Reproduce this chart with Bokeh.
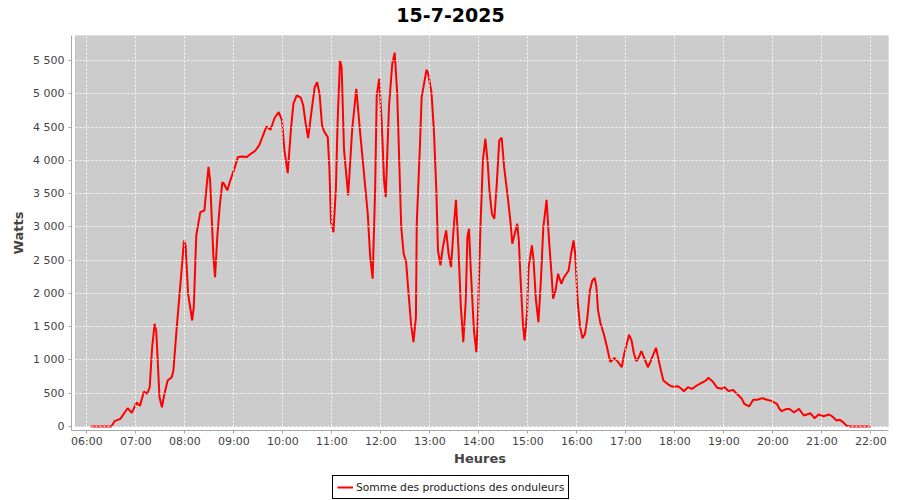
from bokeh.plotting import figure
from bokeh.layouts import column
from bokeh.models import FixedTicker, Legend, LegendItem, ColumnDataSource, Range1d, BoxAnnotation, Label
from bokeh.embed import file_html
from bokeh.resources import INLINE

title_text = "15-7-2025"
x_label = "Heures"
y_label = "Watts"
series_name = "Somme des productions des onduleurs"

times = [
    "06:05", "06:10", "06:15", "06:20", "06:25", "06:30", "06:34", "06:41", "06:50", "06:55",
    "07:01", "07:05", "07:10", "07:14", "07:17", "07:20", "07:23", "07:25", "07:29", "07:32", "07:35", "07:39", "07:44", "07:46", "07:50", "07:55", "07:59",
    "08:01", "08:04", "08:09", "08:11", "08:14", "08:19", "08:24", "08:25", "08:29", "08:31", "08:35", "08:37", "08:40", "08:43", "08:46", "08:48", "08:52", "08:55",
    "09:00", "09:05", "09:10", "09:16", "09:22", "09:26", "09:31", "09:35", "09:40", "09:45", "09:50", "09:55", "09:59",
    "10:02", "10:06", "10:10", "10:13", "10:17", "10:22", "10:25", "10:28", "10:31", "10:35", "10:39", "10:42", "10:45", "10:48", "10:51", "10:55", "10:57", "10:59",
    "11:02", "11:05", "11:07", "11:10", "11:12", "11:15", "11:20", "11:25", "11:30", "11:35", "11:40", "11:44", "11:47", "11:50", "11:53", "11:55", "11:58",
    "12:01", "12:04", "12:06", "12:10", "12:14", "12:17", "12:20", "12:25", "12:28", "12:31", "12:34", "12:37", "12:40", "12:43", "12:44", "12:48", "12:50", "12:56", "12:58",
    "13:02", "13:05", "13:08", "13:10", "13:13", "13:16", "13:20", "13:23", "13:26", "13:29", "13:32", "13:35", "13:38", "13:41", "13:44", "13:46", "13:48", "13:50", "13:54", "13:57", "13:59",
    "14:02", "14:05", "14:08", "14:11", "14:13", "14:16", "14:19", "14:22", "14:25", "14:28", "14:31", "14:35", "14:39", "14:41", "14:44", "14:47", "14:49", "14:51", "14:54", "14:56", "14:59",
    "15:01", "15:05", "15:07", "15:10", "15:13", "15:16", "15:19", "15:23", "15:26", "15:29", "15:31", "15:34", "15:37", "15:41", "15:44", "15:50", "15:53", "15:56", "15:58",
    "16:01", "16:04", "16:07", "16:10", "16:13", "16:16", "16:19", "16:22", "16:24", "16:26", "16:29", "16:33", "16:37", "16:41", "16:46", "16:49", "16:55", "16:58",
    "17:04", "17:07", "17:10", "17:13", "17:16", "17:19", "17:23", "17:27", "17:30", "17:34", "17:37", "17:39", "17:43", "17:46", "17:51", "17:56", "17:59",
    "18:04", "18:08", "18:11", "18:16", "18:21", "18:27", "18:32", "18:38", "18:41", "18:46", "18:52", "18:57",
    "19:01", "19:06", "19:11", "19:16", "19:22", "19:25", "19:31", "19:36", "19:41", "19:47", "19:53", "19:59",
    "20:05", "20:08", "20:11", "20:16", "20:20", "20:26", "20:32", "20:38", "20:46", "20:51", "20:56",
    "21:02", "21:09", "21:13", "21:18", "21:22", "21:26", "21:30", "21:35", "21:40", "21:45", "21:50", "21:55", "22:00",
]

watts = [
    0, 0, 0, 0, 0, 0, 80, 115, 275, 205,
    360, 310, 526, 490, 590, 1190, 1543, 1440, 440, 290, 490, 690, 740, 840, 1470, 2195, 2795,
    2720, 1995, 1593, 1795, 2870, 3220, 3245, 3385, 3900, 3695, 2545, 2245, 2895, 3347, 3672, 3648, 3547, 3672,
    3848, 4048, 4058, 4048, 4108, 4140, 4223, 4348, 4509, 4459, 4639, 4724, 4599,
    4148, 3807, 4474, 4850, 4975, 4940, 4825, 4549, 4333, 4724, 5100, 5175, 5000, 4524, 4424, 4348, 3897, 3071,
    2920, 3572, 4549, 5501, 5401, 4148, 3472, 4474, 5075, 4374, 3723, 3197, 2545, 2220, 3547, 4975, 5226,
    4599, 3697, 3447, 4800, 5451, 5617, 5025, 2995, 2595, 2470, 1995, 1544, 1267, 1643, 3047, 4249, 4950, 5361, 5301,
    5025, 4449, 3547, 2645, 2420, 2695, 2946, 2595, 2394, 2946, 3407, 2695, 1793, 1267, 1894, 2845, 2971, 2394, 1443, 1117, 1694,
    2995, 3998, 4324, 3948, 3547, 3197, 3122, 3648, 4299, 4339, 3897, 3497, 3047, 2746, 2896, 3047, 2796, 2244, 1544, 1293, 1694,
    2394, 2720, 2495, 1894, 1568, 2194, 2995, 3407, 2796, 2295, 1919, 2044, 2295, 2145, 2234, 2345, 2595, 2796, 2595,
    1894, 1493, 1327, 1393, 1643, 2044, 2194, 2234, 2094, 1744, 1550, 1393, 1192, 967, 1032, 992, 891, 1093,
    1378, 1293, 1093, 981, 1042, 1132, 1017, 891, 967, 1093, 1183, 1067, 842, 691, 641, 601, 601,
    606, 566, 531, 591, 566, 616, 651, 691, 731, 681, 581, 566,
    591, 531, 551, 491, 416, 341, 301, 401, 401, 426, 401, 381,
    341, 266, 230, 260, 266, 210, 266, 165, 200, 125, 180,
    155, 180, 150, 90, 100, 65, 15, 0, 0, 0, 0, 0, 0,
]

x_tick_hours = [6, 7, 8, 9, 10, 11, 12, 13, 14, 15, 16, 17, 18, 19, 20, 21, 22]
x_tick_labels = ["06:00", "07:00", "08:00", "09:00", "10:00", "11:00", "12:00", "13:00",
                 "14:00", "15:00", "16:00", "17:00", "18:00", "19:00", "20:00", "21:00", "22:00"]
y_tick_values = [0, 500, 1000, 1500, 2000, 2500, 3000, 3500, 4000, 4500, 5000, 5500]
y_tick_labels = ["0", "500", "1 000", "1 500", "2 000", "2 500", "3 000", "3 500",
                 "4 000", "4 500", "5 000", "5 500"]

# plot-area limits (hours / watts); the axes sit 4 px outside them, as in JFreeChart
x_lo, x_hi = 5.769, 22.361
y_lo, y_hi = 0, 5875
px_per_hour = 49.0
px_per_watt = 0.06655
axis_gap = 4

hours = [int(t[:2]) + int(t[3:]) / 60.0 for t in times]
src = ColumnDataSource(dict(h=hours, w=watts))

FONT = "DejaVu Sans"


def strip(height):
    s = figure(width=900, height=height, min_border=0, x_range=Range1d(0, 1), y_range=Range1d(0, 1),
               x_axis_type=None, y_axis_type=None, output_backend="svg", toolbar_location=None)
    s.outline_line_color = None
    s.background_fill_color = "white"
    s.border_fill_color = "white"
    return s


# title strip above the chart (frames are aligned by the column)
pt = strip(28)
pt.add_layout(Label(x=379, y=14, x_units="screen", y_units="screen", text=title_text,
                    text_align="center", text_baseline="middle",
                    text_font=FONT, text_font_size="19px", text_font_style="bold",
                    text_color="black"))

p = figure(width=900, height=446, frame_width=817, frame_height=395,
           min_border_left=71, min_border_right=12, min_border_top=7, min_border_bottom=44,
           x_range=Range1d(x_lo - axis_gap / px_per_hour, x_hi),
           y_range=Range1d(y_lo - axis_gap / px_per_watt, y_hi),
           output_backend="svg", toolbar_location=None)

p.background_fill_color = "white"
p.border_fill_color = "white"
p.outline_line_color = None

plot_area = BoxAnnotation(left=x_lo, right=x_hi, bottom=y_lo, top=y_hi,
                          fill_color="#cccccc", fill_alpha=1,
                          line_color="#6d6d6d", line_width=1, level="underlay")
p.add_layout(plot_area)

for ax in (p.xaxis[0], p.yaxis[0]):
    ax.axis_line_color = "#a8a8a8"
    ax.axis_line_width = 1
    ax.major_tick_in = 0
    ax.major_tick_out = 3
    ax.major_tick_line_color = "#a8a8a8"
    ax.minor_tick_line_color = None
    ax.major_label_text_font = FONT
    ax.major_label_text_font_size = "11px"
    ax.major_label_text_color = "#444444"
    ax.axis_label_text_font = FONT
    ax.axis_label_text_font_size = "13px"
    ax.axis_label_text_font_style = "bold"
    ax.axis_label_text_color = "#444444"

p.xaxis.ticker = FixedTicker(ticks=x_tick_hours)
p.xaxis.major_label_overrides = dict(zip(x_tick_hours, x_tick_labels))
p.xaxis.axis_label = x_label
p.xaxis.major_label_standoff = 1
p.xaxis.axis_label_standoff = 0

p.yaxis.ticker = FixedTicker(ticks=y_tick_values)
p.yaxis.major_label_overrides = dict(zip(y_tick_values, y_tick_labels))
p.yaxis.axis_label = y_label
p.yaxis.major_label_standoff = 4
p.yaxis.axis_label_standoff = 4

for g in (p.xgrid[0], p.ygrid[0]):
    g.grid_line_color = "white"
    g.grid_line_dash = "2 2"
    g.grid_line_width = 1
    g.grid_line_alpha = 0.9
    g.level = "glyph"

r_line = p.line("h", "w", source=src, line_color="#ff0000", line_width=2)

# legend strip below the chart; the series is out of this strip's range, only its key shows
pl = strip(26)
r_key = pl.line("h", "w", source=src, line_color="#ff0000", line_width=2)

legend = Legend(items=[LegendItem(label=series_name, renderers=[r_key])],
                location=(261, 1), orientation="horizontal",
                border_line_color="black", border_line_width=1, border_line_alpha=1,
                background_fill_color="white", background_fill_alpha=1,
                padding=4, margin=0, spacing=0,
                glyph_width=16, glyph_height=12, label_standoff=3,
                label_text_font=FONT, label_text_font_size="10.7px", label_text_color="#222222",
                label_height=14)
pl.add_layout(legend)

layout = column(pt, p, pl, spacing=0)
open("out.html", "w").write(file_html(layout, INLINE))
